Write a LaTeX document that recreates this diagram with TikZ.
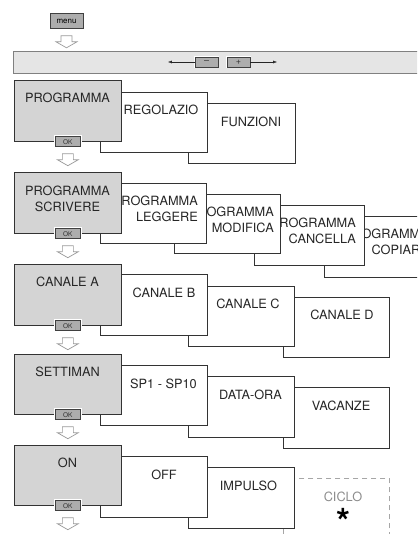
\documentclass[tikz,border=0pt]{standalone}
\usepackage{fontspec}
\setmainfont{TeX Gyre Heros}
\usepackage{xcolor}
\usepackage{tikz}
\usetikzlibrary{arrows.meta}

\begin{document}
\begin{tikzpicture}[x=1bp,y=-1bp,
	graybox/.style={draw=black!80,fill=black!17,line width=0.7pt,minimum width=107bp,minimum height=61bp,anchor=north west,inner sep=0},
	whitebox/.style={draw=black!80,fill=white,line width=0.7pt,minimum width=107bp,minimum height=60bp,anchor=north west,inner sep=0},
	okbtn/.style={draw=black!75,fill=black!32,line width=0.5pt,preaction={draw=white,line width=3pt},minimum width=25bp,minimum height=10bp,inner sep=0,font=\fontsize{6.5}{7}\selectfont,text=black!80},
	boxtext/.style={font=\fontsize{12.8}{16}\selectfont,text=black!85,inner sep=0},
	hollowdown/.pic={\draw[black!40,fill=white,line width=0.7pt] (-5.5,0) -- (-5.5,6) -- (-10.5,6) -- (0,12) -- (10.5,6) -- (5.5,6) -- (5.5,0) -- cycle;}]
	\useasboundingbox (0,0) rectangle (417,534);
	\clip (0,0) rectangle (417,534);

	% menu and +/- bar
	\node[draw=black!75,fill=black!32,line width=0.6pt,minimum width=33bp,minimum height=15bp,inner sep=0,font=\fontsize{8}{8}\selectfont] (menu) at (66.5,21) {menu};
	\path (menu.south) ++(0,7) pic {hollowdown};
	\node[draw=black!50,fill=black!10,line width=0.7pt,minimum width=420bp,minimum height=22bp,anchor=north west,inner sep=0] (bar) at (13,51) {};
	\node[okbtn,minimum width=23bp,font=\fontsize{9}{9}\selectfont] (minus) at (206.5,62) {--};
	\node[okbtn,minimum width=23bp,font=\fontsize{9}{9}\selectfont] (plus) at (238.5,62) {+};
	\coordinate (lend) at (168,62);
	\coordinate (rend) at (277,62);
	\draw[black!85,-{Latex[length=4pt,width=3pt]}] (minus.west) -- (lend);
	\draw[black!85,-{Latex[length=4pt,width=3pt]}] (plus.east) -- (rend);

	% PROGRAMMA
	\node[whitebox] (funz) at (188,103) {};
	\node[boxtext] (funzt) at (251,122) {FUNZIONI};
	\node[whitebox] (regol) at (100,92) {};
	\node[boxtext] (regolt) at (161,110) {REGOLAZIO};
	\node[graybox] (prog) at (14,80) {};
	\node[boxtext] (progt) at (67.5,98) {PROGRAMMA};
	\node[okbtn] (ok1) at (prog.south) {OK};
	\path (prog.south) ++(0,12) pic {hollowdown};

	% PROGRAMMA SCRIVERE
	\node[whitebox,minimum width=112bp,minimum height=61bp] (copia) at (324,216) {};
	\node[boxtext,anchor=east,align=right] (copiat) at (429,241.5) {PROGRAMMA\\COPIARE};
	\node[whitebox,minimum width=110bp] (canc) at (254,205) {};
	\node[boxtext,anchor=east,align=right] (canct) at (356,230.5) {PROGRAMMA\\CANCELLA};
	\node[whitebox,minimum width=106bp,minimum height=59bp] (modif) at (174,194) {};
	\node[boxtext,anchor=east,align=right] (modift) at (274,219.5) {PROGRAMMA\\MODIFICA};
	\node[whitebox,minimum width=106bp] (legg) at (100,183) {};
	\node[boxtext,anchor=east,align=right] (leggt) at (198,208.5) {PROGRAMMA\\LEGGERE};
	\node[graybox] (scriv) at (14,172) {};
	\node[boxtext,align=center] (scrivt) at (67.5,198.5) {PROGRAMMA\\SCRIVERE};
	\node[okbtn] (ok2) at (scriv.south) {OK};
	\path (scriv.south) ++(0,12) pic {hollowdown};

	% CANALE
	\node[whitebox,minimum width=106bp] (canD) at (283,297) {};
	\node[boxtext] (canDt) at (342,315) {CANALE D};
	\node[whitebox,minimum width=106bp] (canC) at (188,286) {};
	\node[boxtext] (canCt) at (248,304) {CANALE C};
	\node[whitebox,minimum height=61bp] (canB) at (100,274) {};
	\node[boxtext] (canBt) at (164,293) {CANALE B};
	\node[graybox] (canA) at (14,264) {};
	\node[boxtext] (canAt) at (67.5,282) {CANALE A};
	\node[okbtn] (ok3) at (canA.south) {OK};
	\path (canA.south) ++(0,12) pic {hollowdown};

	% SETTIMAN
	\node[whitebox,minimum width=106bp,minimum height=61bp] (vac) at (283,387) {};
	\node[boxtext] (vact) at (341,406) {VACANZE};
	\node[whitebox,minimum width=106bp,minimum height=61bp] (data) at (188,376) {};
	\node[boxtext] (datat) at (250.5,395) {DATA-ORA};
	\node[whitebox] (sp) at (100,365) {};
	\node[boxtext] (spt) at (163.5,384) {SP1 - SP10};
	\node[graybox,minimum height=60bp] (sett) at (14,354) {};
	\node[boxtext] (settt) at (67.5,372) {SETTIMAN};
	\node[okbtn] (ok4) at (sett.south) {OK};
	\path (sett.south) ++(0,12) pic {hollowdown};

	% ON
	\node[draw=black!35,dashed,dash pattern=on 5bp off 4bp,line width=0.7pt,minimum width=106bp,minimum height=61bp,anchor=north west,inner sep=0] (ciclo) at (283,478) {};
	\node[boxtext,text=black!45] (ciclot) at (343,497) {CICLO};
	\node[font=\fontsize{36}{36}\selectfont\bfseries,inner sep=0,anchor=north] (star) at (343,508) {*};
	\node[whitebox,minimum width=106bp,minimum height=61bp] (imp) at (188,467) {};
	\node[boxtext] (impt) at (248.5,486) {IMPULSO};
	\node[whitebox,minimum height=61bp] (off) at (100,456) {};
	\node[boxtext] (offt) at (164,475) {OFF};
	\node[graybox,minimum height=60bp] (on) at (14,445) {};
	\node[boxtext] (ont) at (67.5,463) {ON};
	\node[okbtn] (ok5) at (on.south) {OK};
	\path (on.south) ++(0,12) pic {hollowdown};

\end{tikzpicture}
\end{document}
